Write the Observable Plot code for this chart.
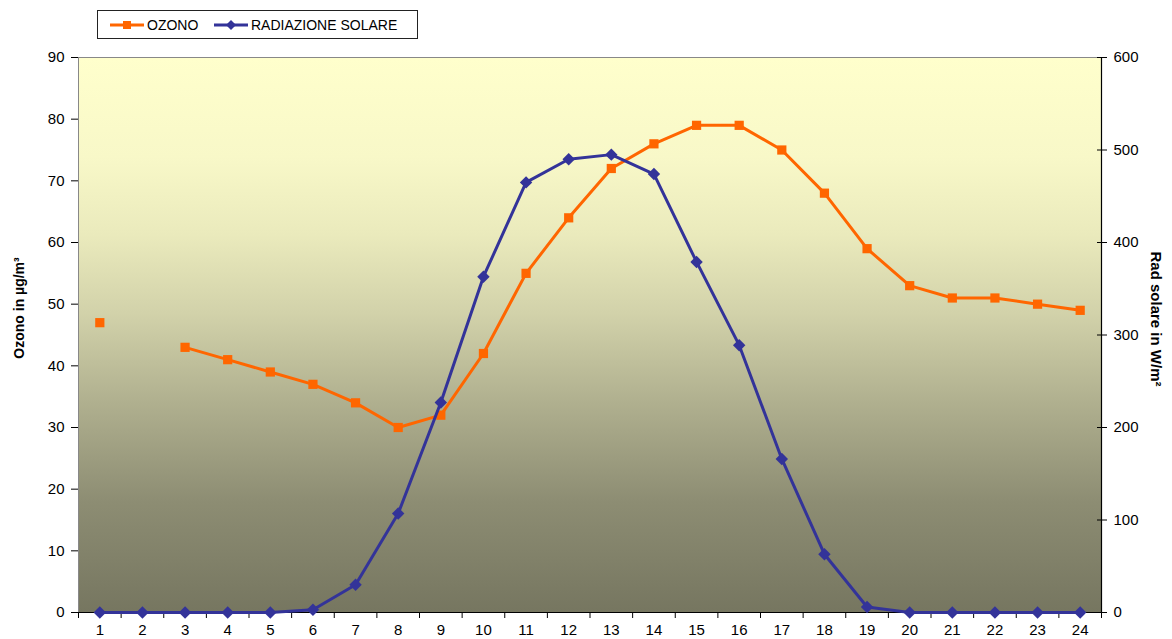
<!DOCTYPE html>
<html>
<head>
<meta charset="utf-8">
<script src="https://cdn.jsdelivr.net/npm/d3@7"></script>
<script src="https://cdn.jsdelivr.net/npm/@observablehq/plot@0.6"></script>
<style>
  body { margin: 0; background: #fff; font-family: "Liberation Sans", Arial, sans-serif; }
  #legend { position: relative; height: 45px; width: 1172px; }
  #legend .box { position: absolute; left: 97px; top: 10px; width: 319px; height: 27px; border: 1px solid #222; background: #fff; }
</style>
</head>
<body>
<div id="legend"><div class="box"><svg id="legsvg" width="319" height="27"></svg></div></div>
<div id="chart"></div>
<script>
const hours = [1, 2, 3, 4, 5, 6, 7, 8, 9, 10, 11, 12, 13, 14, 15, 16, 17, 18, 19, 20, 21, 22, 23, 24];
const ozone = [47, null, 43, 41, 39, 37, 34, 30, 32, 42, 55, 64, 72, 76, 79, 79, 75, 68, 59, 53, 51, 51, 50, 49];
const radiazione = [0, 0, 0, 0, 0, 3, 30, 107, 227, 363, 465, 490, 495, 474, 379, 289, 166, 63, 6, 0, 0, 0, 0, 0];
const ozoneTicks = [0, 10, 20, 30, 40, 50, 60, 70, 80, 90];
const radTicks = [0, 100, 200, 300, 400, 500, 600];
const seriesNames = ["OZONO", "RADIAZIONE SOLARE"];
const axisTitles = ["Ozono in µg/m³", "Rad solare in W/m²"];
const colors = ["#FF6600", "#333399"];

const K = 90 / 600; // radiation -> ozone axis
const boundaries = [0.5, ...hours.map(h => h + 0.5)];

const dataOz = hours.map((h, i) => ({h, v: ozone[i]}));
const dataRad = hours.map((h, i) => ({h, v: radiazione[i] * K}));

const chart = Plot.plot({
  width: 1172,
  height: 594,
  marginLeft: 78,
  marginRight: 71,
  marginTop: 12,
  marginBottom: 27,
  style: {fontFamily: "'Liberation Sans', Arial, sans-serif", fontSize: "15px", color: "#000", background: "transparent", overflow: "visible"},
  x: {domain: [0.5, 24.5], label: null},
  y: {domain: [0, 90], label: null},
  marks: [
    Plot.frame({fill: "url(#bgGrad)", stroke: "#888"}),
    Plot.axisX({ticks: hours, tickSize: 0, tickPadding: 12, tickFormat: d => String(d), label: null}),
    Plot.axisX({ticks: boundaries, tickSize: 6, tickFormat: () => "", label: null, stroke: "#000"}),
    Plot.axisY({ticks: ozoneTicks, tickSize: 7, tickPadding: 7, label: null}),
    Plot.axisY({anchor: "right", ticks: radTicks.map(v => v * K), tickFormat: d => String(Math.round(d / K)), tickSize: 5, tickPadding: 7, label: null}),
    Plot.axisY({anchor: "right", ticks: radTicks.map(v => v * K), tickFormat: () => "", tickSize: -5, label: null}),
    Plot.ruleY([0], {stroke: "#000", strokeWidth: 1.2}),
    Plot.ruleX([24.5], {stroke: "#000", strokeWidth: 1.2}),
    Plot.line(dataOz, {x: "h", y: "v", stroke: colors[0], strokeWidth: 3}),
    Plot.dot(dataOz, {x: "h", y: "v", symbol: "square", r: 5.2, fill: colors[0], stroke: null}),
    Plot.line(dataRad, {x: "h", y: "v", stroke: colors[1], strokeWidth: 3}),
    Plot.dot(dataRad, {x: "h", y: "v", symbol: "diamond2", r: 5.6, fill: colors[1], stroke: null})
  ]
});

const svg = d3.select(chart);
const defs = svg.insert("defs", ":first-child");
const grad = defs.append("linearGradient").attr("id", "bgGrad").attr("x1", 0).attr("y1", 0).attr("x2", 0).attr("y2", 1);
[[0, "#FFFFCC"], [0.18, "#F8F8C8"], [0.32, "#EAEABC"], [0.46, "#D2D2AA"], [0.62, "#B0B08F"], [0.8, "#8D8D73"], [1, "#767660"]]
  .forEach(([o, c]) => grad.append("stop").attr("offset", o).attr("stop-color", c));

// axis titles
svg.append("text").attr("transform", "translate(19,263) rotate(-90)")
  .attr("text-anchor", "middle").attr("dy", "0.35em")
  .attr("font-weight", "bold").attr("font-size", 14).attr("fill", "#000").text(axisTitles[0]);
svg.append("text").attr("transform", "translate(1156,274) rotate(90)")
  .attr("text-anchor", "middle").attr("dy", "0.35em")
  .attr("font-weight", "bold").attr("font-size", 15).attr("fill", "#000").text(axisTitles[1]);

document.getElementById("chart").appendChild(chart);

// Legend
const leg = d3.select("#legsvg");
const items = [
  {x: 12, name: seriesNames[0], color: colors[0], sym: d3.symbolSquare, size: 64},
  {x: 116, name: seriesNames[1], color: colors[1], sym: d3.symbolDiamond2, size: 64}
];
items.forEach(it => {
  leg.append("line").attr("x1", it.x).attr("x2", it.x + 34).attr("y1", 14).attr("y2", 14)
    .attr("stroke", it.color).attr("stroke-width", 3);
  leg.append("path").attr("d", d3.symbol(it.sym, it.size)()).attr("transform", `translate(${it.x + 17},14)`)
    .attr("fill", it.color);
  leg.append("text").attr("x", it.x + 37).attr("y", 14).attr("dy", "0.35em")
    .attr("font-size", 14).attr("font-family", "'Liberation Sans', Arial, sans-serif").text(it.name);
});
</script>
</body>
</html>
